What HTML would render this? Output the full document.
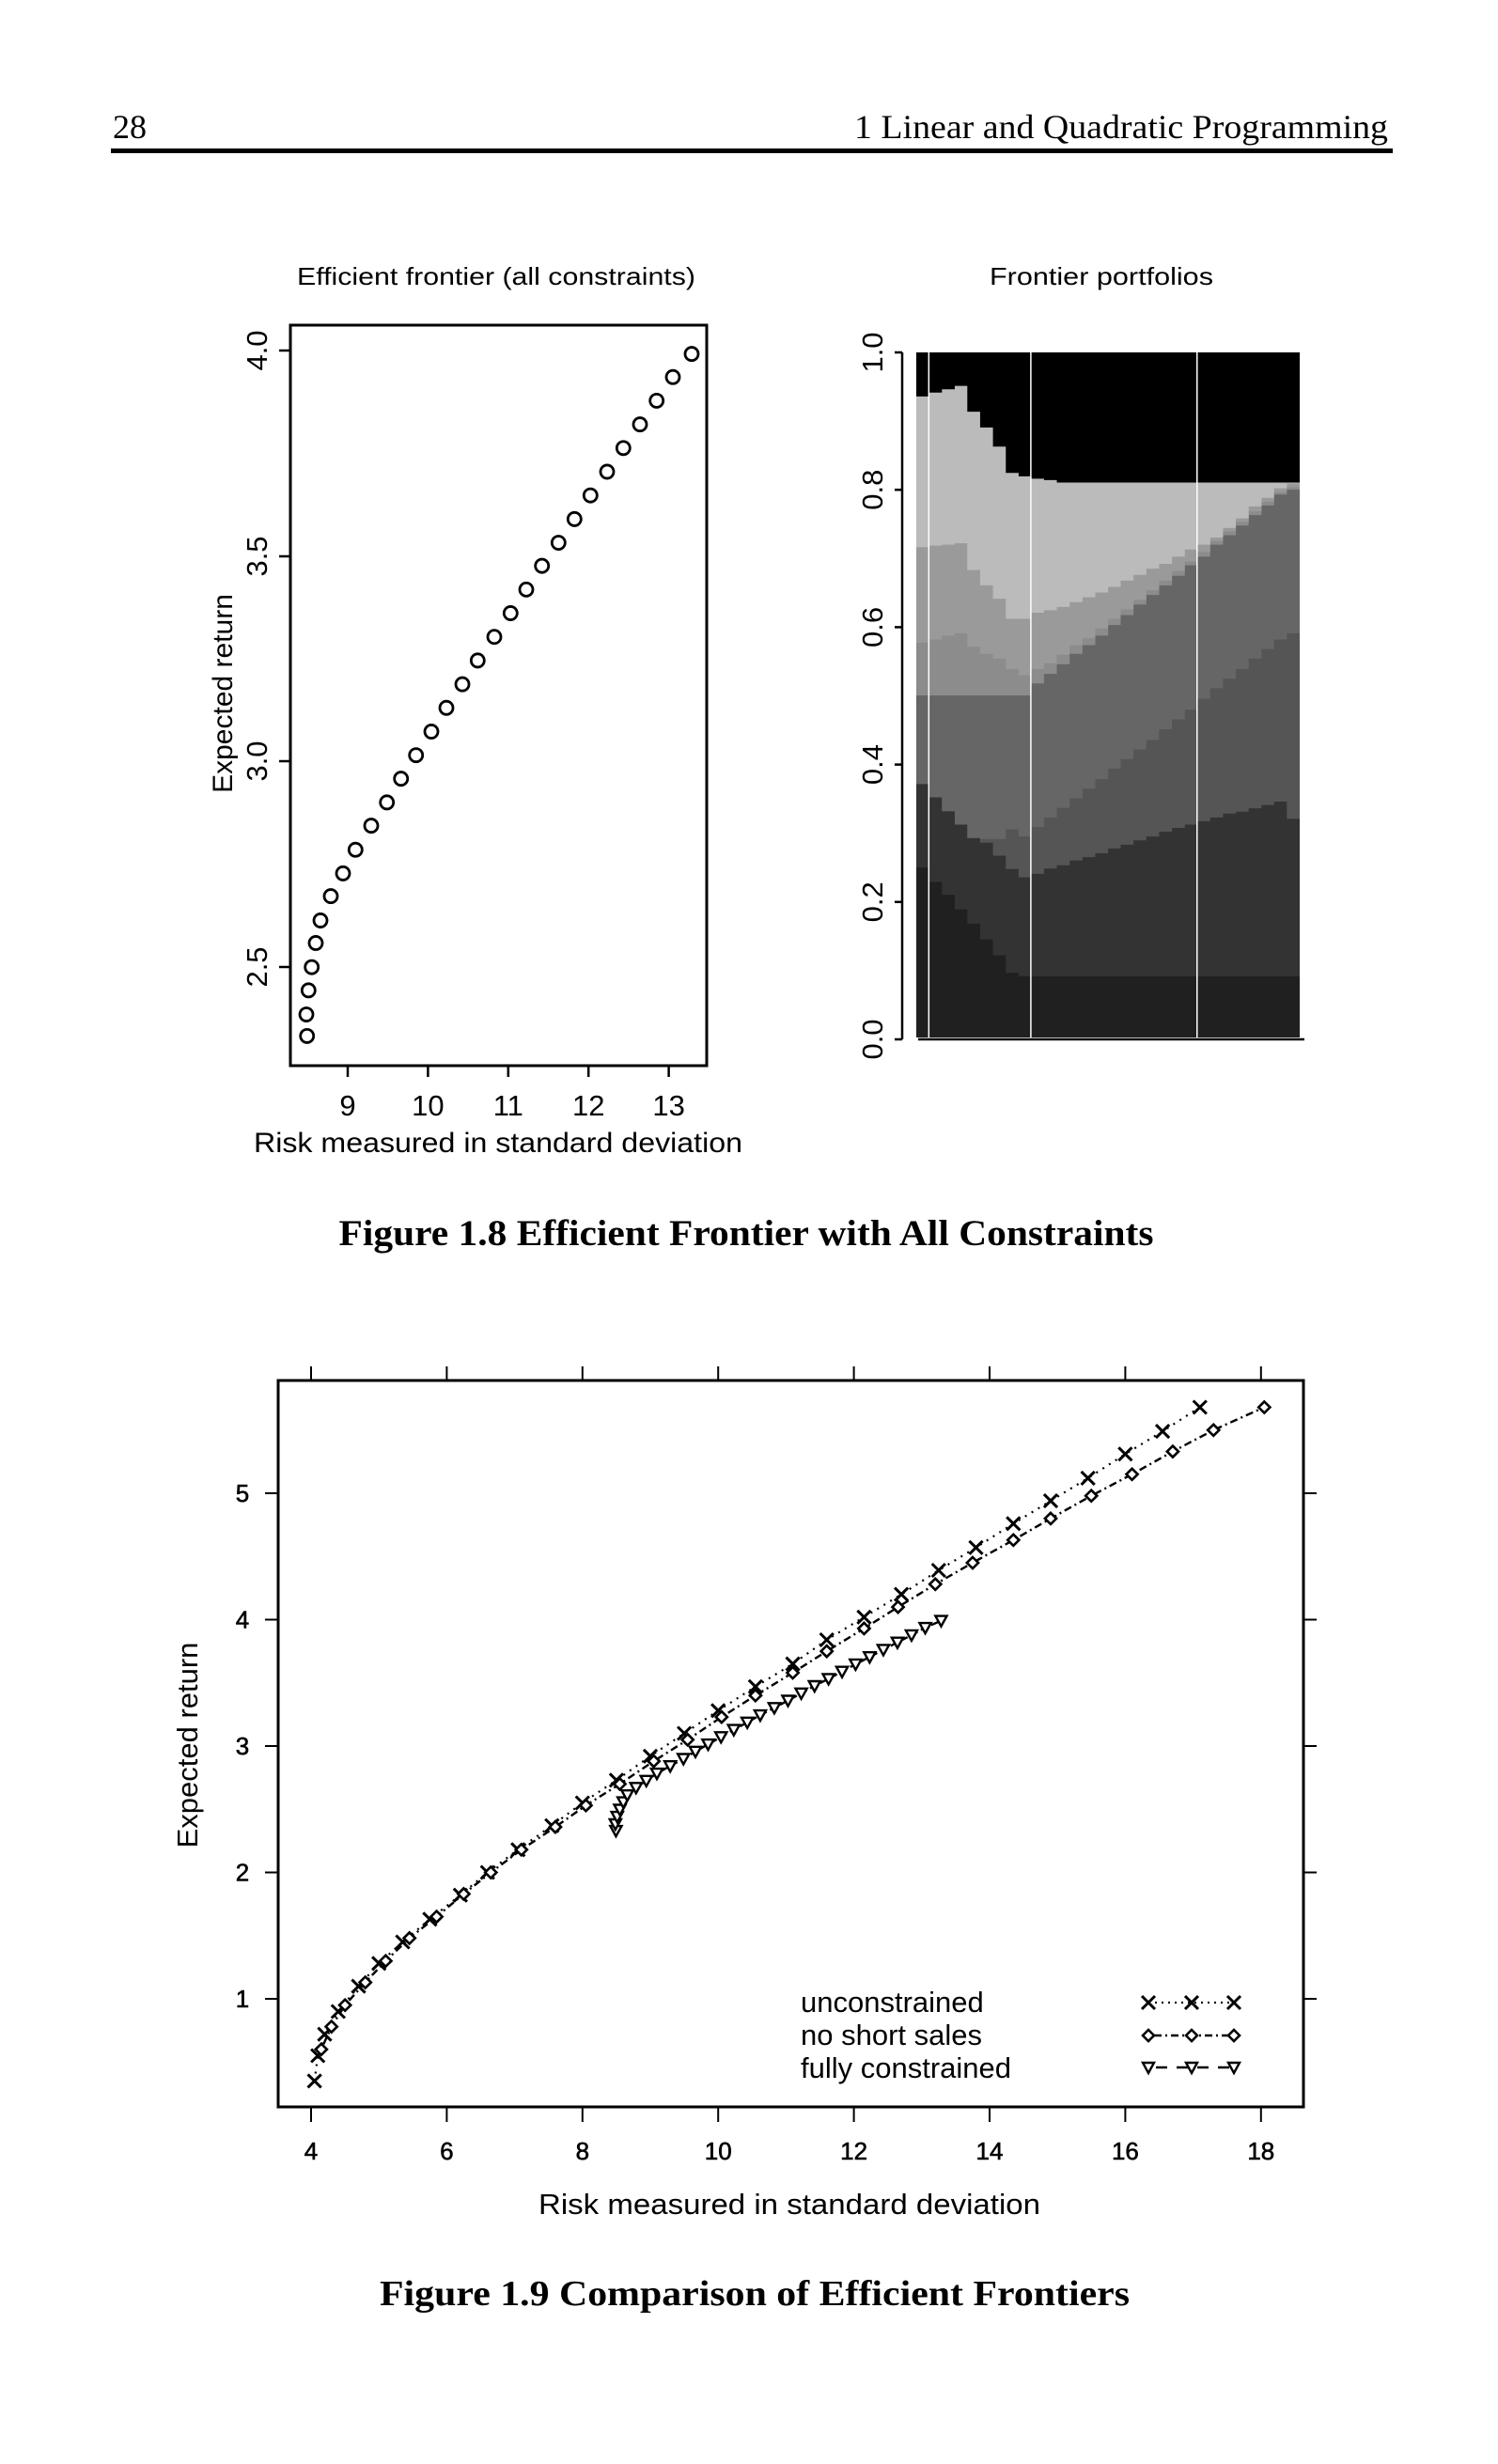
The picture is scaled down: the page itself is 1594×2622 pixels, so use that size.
<!DOCTYPE html>
<html><head><meta charset="utf-8"><style>html,body{margin:0;padding:0;background:#fff}svg{display:block}</style></head>
<body>
<svg width="1594" height="2622" viewBox="0 0 1594 2622" xmlns="http://www.w3.org/2000/svg" font-family="Liberation Sans, Arial, sans-serif">
<defs>
<marker id="mx" markerUnits="userSpaceOnUse" markerWidth="20" markerHeight="20" refX="10" refY="10" overflow="visible"><path d="M3,3L17,17M3,17L17,3" stroke="#000" stroke-width="3" fill="none"/></marker>
<marker id="md" markerUnits="userSpaceOnUse" markerWidth="20" markerHeight="20" refX="10" refY="10" overflow="visible"><path d="M10,4L16,10L10,16L4,10Z" stroke="#000" stroke-width="2.6" fill="#fff"/></marker>
<marker id="mt" markerUnits="userSpaceOnUse" markerWidth="20" markerHeight="20" refX="10" refY="10" overflow="visible"><path d="M4,5L16,5L10,16Z" stroke="#000" stroke-width="2.4" fill="#fff"/></marker>
</defs>

<!-- header -->
<text x="120" y="147" font-family="Liberation Serif, serif" font-size="36">28</text>
<text x="1477" y="147" font-family="Liberation Serif, serif" font-size="36" text-anchor="end" textLength="568" lengthAdjust="spacingAndGlyphs">1 Linear and Quadratic Programming</text>
<rect x="118" y="158" width="1364" height="5" fill="#000"/>

<!-- left plot -->
<text x="528" y="303" font-size="26" text-anchor="middle" textLength="424" lengthAdjust="spacingAndGlyphs">Efficient frontier (all constraints)</text>
<rect x="309" y="346" width="443" height="788" fill="none" stroke="#000" stroke-width="3"/>
<g stroke="#000" stroke-width="2.5">
<line x1="297" y1="373" x2="309" y2="373"/><line x1="297" y1="592" x2="309" y2="592"/><line x1="297" y1="810" x2="309" y2="810"/><line x1="297" y1="1029" x2="309" y2="1029"/>
<line x1="370" y1="1134" x2="370" y2="1146"/><line x1="455.4" y1="1134" x2="455.4" y2="1146"/><line x1="540.8" y1="1134" x2="540.8" y2="1146"/><line x1="626.2" y1="1134" x2="626.2" y2="1146"/><line x1="711.6" y1="1134" x2="711.6" y2="1146"/>
</g>
<g font-size="31" text-anchor="middle">
<text transform="translate(284,373) rotate(-90)">4.0</text>
<text transform="translate(284,592) rotate(-90)">3.5</text>
<text transform="translate(284,810) rotate(-90)">3.0</text>
<text transform="translate(284,1029) rotate(-90)">2.5</text>
<text x="370" y="1187">9</text><text x="455.4" y="1187">10</text><text x="540.8" y="1187">11</text><text x="626.2" y="1187">12</text><text x="711.6" y="1187">13</text>
</g>
<text transform="translate(247,738) rotate(-90)" font-size="30" text-anchor="middle">Expected return</text>
<text x="530" y="1226" font-size="30" text-anchor="middle" textLength="520" lengthAdjust="spacingAndGlyphs">Risk measured in standard deviation</text>
<g fill="none" stroke="#000" stroke-width="2.8" transform="translate(0,346) scale(1,1.0076) translate(0,-344)">
<circle cx="326.7" cy="1094.7" r="7"/><circle cx="326" cy="1072" r="7"/><circle cx="328.3" cy="1046.5" r="7"/><circle cx="331.7" cy="1022" r="7"/><circle cx="336" cy="996.5" r="7"/><circle cx="341" cy="972.7" r="7"/><circle cx="352" cy="947" r="7"/><circle cx="365" cy="923" r="7"/><circle cx="378.3" cy="898" r="7"/><circle cx="395" cy="872.6" r="7"/><circle cx="411.7" cy="848" r="7"/><circle cx="426.7" cy="823" r="7"/><circle cx="442.7" cy="798.2" r="7"/><circle cx="459" cy="773.2" r="7"/><circle cx="475" cy="748.2" r="7"/><circle cx="492" cy="723.2" r="7"/><circle cx="508.3" cy="698.2" r="7"/><circle cx="526" cy="673.2" r="7"/><circle cx="543.3" cy="648.2" r="7"/><circle cx="560" cy="623.2" r="7"/><circle cx="576.7" cy="598.2" r="7"/><circle cx="594.3" cy="573.8" r="7"/><circle cx="611.3" cy="548.8" r="7"/><circle cx="628.3" cy="523.8" r="7"/><circle cx="646" cy="498.8" r="7"/><circle cx="663.3" cy="473.8" r="7"/><circle cx="681" cy="448.8" r="7"/><circle cx="698.7" cy="423.8" r="7"/><circle cx="716" cy="398.8" r="7"/><circle cx="736" cy="374.4" r="7"/>
</g>

<!-- right plot -->
<text x="1172" y="303" font-size="26" text-anchor="middle" textLength="238" lengthAdjust="spacingAndGlyphs">Frontier portfolios</text>
<svg x="975" y="375" width="408" height="729" viewBox="235 88 1225 1432" preserveAspectRatio="none">
<rect x="235" y="88" width="1225" height="1432" fill="#202020"/>
<path fill="#333333" d="M235 88V1165H276V1195H317V1222H358V1252H398V1282H439V1315H480V1348H521V1385H562V1392H1460V88Z"/>
<path fill="#555555" d="M235 88V990H276V1018H317V1047H358V1075H398V1103H439V1113H480V1140H521V1168H562V1185H603V1178H643V1167H684V1160H725V1150H766V1143H807V1135H848V1125H888V1117H929V1108H970V1100H1011V1090H1052V1082H1093V1075H1133V1068H1174V1060H1215V1052H1256V1048H1297V1041H1338V1034H1378V1027H1419V1063H1460V88Z"/>
<path fill="#666666" d="M235 88V990H276V1018H317V1047H358V1075H398V1103H439V1105H480V1105H521V1085H562V1100H603V1080H643V1060H684V1040H725V1020H766V1000H807V980H848V958H888V938H929V918H970V898H1011V876H1052V855H1093V835H1133V812H1174V790H1215V770H1256V750H1297V728H1338V708H1378V688H1419V675H1460V88Z"/>
<path fill="#8c8c8c" d="M235 88V805H603V780H643V760H684V740H725V718H766V700H807V680H848V658H888V637H929V615H970V595H1011V575H1052V555H1093V533H1133V515H1174V490H1215V470H1256V450H1297V428H1338V408H1378V385H1419V375H1460V88Z"/>
<path fill="#9a9a9a" d="M235 88V695H276V688H317V680H358V675H398V703H439V718H480V728H521V750H562V763H603V750H643V738H684V720H725V700H766V685H807V665H848V645H888V625H929V605H970V585H1011V565H1052V545H1093V525H1133V505H1174V482H1215V462H1256V442H1297V420H1338V400H1378V380H1419V370H1460V88Z"/>
<path fill="#bbbbbb" d="M235 88V495H276V492H317V490H358V487H398V543H439V575H480V603H521V645H562V645H603V632H643V627H684V620H725V610H766V600H807V590H848V578H888V565H929V553H970V540H1011V530H1052V515H1093V500H1133V490H1174V475H1215V455H1256V435H1297V410H1338V392H1378V372H1419V362H1460V88Z"/>
<path fill="#000000" d="M235 88V180H276V172H317V165H358V158H398V212H439V245H480V285H521V340H562V347H603V352H643V355H684V360H1460V88Z"/>
<g stroke="#fff" stroke-width="1.5">
<line x1="275" y1="88" x2="275" y2="1520" vector-effect="non-scaling-stroke"/>
<line x1="601" y1="88" x2="601" y2="1520" vector-effect="non-scaling-stroke"/>
<line x1="1132" y1="88" x2="1132" y2="1520" vector-effect="non-scaling-stroke"/>
</g>
</svg>
<g stroke="#000" stroke-width="2.5">
<line x1="960" y1="375" x2="960" y2="1106"/>
<line x1="977" y1="1106" x2="1388" y2="1106"/>
<line x1="952" y1="375" x2="960" y2="375"/><line x1="952" y1="521.2" x2="960" y2="521.2"/><line x1="952" y1="667.4" x2="960" y2="667.4"/><line x1="952" y1="813.6" x2="960" y2="813.6"/><line x1="952" y1="959.8" x2="960" y2="959.8"/><line x1="952" y1="1106" x2="960" y2="1106"/>
</g>
<g font-size="31" text-anchor="middle">
<text transform="translate(939,375) rotate(-90)">1.0</text>
<text transform="translate(939,521.2) rotate(-90)">0.8</text>
<text transform="translate(939,667.4) rotate(-90)">0.6</text>
<text transform="translate(939,813.6) rotate(-90)">0.4</text>
<text transform="translate(939,959.8) rotate(-90)">0.2</text>
<text transform="translate(939,1106) rotate(-90)">0.0</text>
</g>

<text x="794" y="1325" font-family="Liberation Serif, serif" font-weight="bold" font-size="39" text-anchor="middle" textLength="867" lengthAdjust="spacingAndGlyphs">Figure 1.8 Efficient Frontier with All Constraints</text>

<!-- bottom plot -->
<rect x="296" y="1469" width="1091" height="773" fill="none" stroke="#000" stroke-width="3"/>
<g stroke="#000" stroke-width="2">
<line x1="331" y1="1454" x2="331" y2="1469"/><line x1="475.4" y1="1454" x2="475.4" y2="1469"/><line x1="619.8" y1="1454" x2="619.8" y2="1469"/><line x1="764.2" y1="1454" x2="764.2" y2="1469"/><line x1="908.6" y1="1454" x2="908.6" y2="1469"/><line x1="1053" y1="1454" x2="1053" y2="1469"/><line x1="1197.4" y1="1454" x2="1197.4" y2="1469"/><line x1="1341.8" y1="1454" x2="1341.8" y2="1469"/>
<line x1="331" y1="2242" x2="331" y2="2258"/><line x1="475.4" y1="2242" x2="475.4" y2="2258"/><line x1="619.8" y1="2242" x2="619.8" y2="2258"/><line x1="764.2" y1="2242" x2="764.2" y2="2258"/><line x1="908.6" y1="2242" x2="908.6" y2="2258"/><line x1="1053" y1="2242" x2="1053" y2="2258"/><line x1="1197.4" y1="2242" x2="1197.4" y2="2258"/><line x1="1341.8" y1="2242" x2="1341.8" y2="2258"/>
<line x1="282" y1="1589" x2="296" y2="1589"/><line x1="282" y1="1723.5" x2="296" y2="1723.5"/><line x1="282" y1="1858" x2="296" y2="1858"/><line x1="282" y1="1992.5" x2="296" y2="1992.5"/><line x1="282" y1="2127" x2="296" y2="2127"/>
<line x1="1387" y1="1589" x2="1401" y2="1589"/><line x1="1387" y1="1723.5" x2="1401" y2="1723.5"/><line x1="1387" y1="1858" x2="1401" y2="1858"/><line x1="1387" y1="1992.5" x2="1401" y2="1992.5"/><line x1="1387" y1="2127" x2="1401" y2="2127"/>
</g>
<g font-size="26" text-anchor="middle" stroke="#000" stroke-width="0.6">
<text x="258" y="1598">5</text><text x="258" y="1732.5">4</text><text x="258" y="1867">3</text><text x="258" y="2001.5">2</text><text x="258" y="2136">1</text>
<text x="331" y="2298">4</text><text x="475.4" y="2298">6</text><text x="619.8" y="2298">8</text><text x="764.2" y="2298">10</text><text x="908.6" y="2298">12</text><text x="1053" y="2298">14</text><text x="1197.4" y="2298">16</text><text x="1341.8" y="2298">18</text>
</g>
<text transform="translate(210,1857) rotate(-90)" font-size="31" text-anchor="middle">Expected return</text>
<text x="840" y="2356" font-size="31" text-anchor="middle" textLength="534" lengthAdjust="spacingAndGlyphs">Risk measured in standard deviation</text>

<g transform="translate(331,0) scale(1.0126,1) translate(-330,0)" fill="none" stroke="#000">
<polyline stroke-width="2.2" stroke-dasharray="2 6" marker-start="url(#mx)" marker-mid="url(#mx)" marker-end="url(#mx)" points="333.6,2214.4 337.1,2187.5 344.3,2164.7 358.5,2140.5 379.9,2113.6 401.3,2089.3 426.3,2066.5 454.8,2042.3 486.9,2016.7 515.4,1992.5 547.5,1968.3 583.1,1942.7 615.2,1918.5 650.9,1894.3 686.5,1868.8 722.2,1844.5 757.8,1820.3 797,1794.8 836.2,1770.6 871.9,1745 911.1,1720.8 950.3,1696.6 989.5,1671 1028.7,1646.8 1068,1621.3 1107.2,1597.1 1146.4,1572.9 1185.6,1547.3 1224.8,1523.1 1264,1497.5"/>
<polyline stroke-width="2.4" stroke-dasharray="2 4 8 4" marker-start="url(#md)" marker-mid="url(#md)" marker-end="url(#md)" points="340.7,2180.8 351.4,2156.6 365.7,2133.7 387,2109.5 408.4,2086.7 433.4,2062.4 461.9,2039.6 490.4,2015.4 518.9,1992.5 551,1968.3 586.7,1944.1 618.8,1921.2 654.4,1898.4 690.1,1874.1 725.7,1851.3 761.4,1827.1 797,1804.2 836.2,1780 871.9,1757.1 911.1,1732.9 946.8,1710.1 986,1685.8 1025.2,1663 1068,1638.8 1107.2,1615.9 1149.9,1591.7 1192.7,1568.8 1235.5,1544.6 1278.3,1521.8 1331.7,1497.5"/>
<polyline stroke-width="2.4" stroke-dasharray="8 4" marker-start="url(#mt)" marker-mid="url(#mt)" marker-end="url(#mt)" points="650.4,1948.1 649.8,1941 651.7,1933.1 654.5,1925.5 658.1,1917.6 662.3,1910.2 671.5,1902.3 682.3,1894.8 693.4,1887.1 707.4,1879.2 721.3,1871.5 733.9,1863.8 747.2,1856.1 760.8,1848.3 774.2,1840.6 788.4,1832.8 802,1825.1 816.8,1817.3 831.2,1809.5 845.1,1801.8 859.1,1794 873.8,1786.4 888,1778.7 902.2,1770.9 917,1763.2 931.4,1755.4 946.2,1747.7 961,1739.9 975.4,1732.1 992.1,1724.6"/>
</g>

<!-- legend -->
<g font-size="31">
<text x="852" y="2141">unconstrained</text>
<text x="852" y="2176">no short sales</text>
<text x="852" y="2211">fully constrained</text>
</g>
<g fill="none" stroke="#000">
<polyline stroke-width="2.2" stroke-dasharray="2 5" marker-start="url(#mx)" marker-mid="url(#mx)" marker-end="url(#mx)" points="1222,2131 1268,2131 1313,2131"/>
<polyline stroke-width="2.4" stroke-dasharray="2 4 8 4" marker-start="url(#md)" marker-mid="url(#md)" marker-end="url(#md)" points="1222,2166 1268,2166 1313,2166"/>
<polyline stroke-width="2.4" stroke-dasharray="12 10" stroke-dashoffset="-8" marker-start="url(#mt)" marker-mid="url(#mt)" marker-end="url(#mt)" points="1222,2200 1268,2200 1313,2200"/>
</g>

<text x="803" y="2453" font-family="Liberation Serif, serif" font-weight="bold" font-size="38" text-anchor="middle" textLength="798" lengthAdjust="spacingAndGlyphs">Figure 1.9 Comparison of Efficient Frontiers</text>
</svg>
</body></html>
